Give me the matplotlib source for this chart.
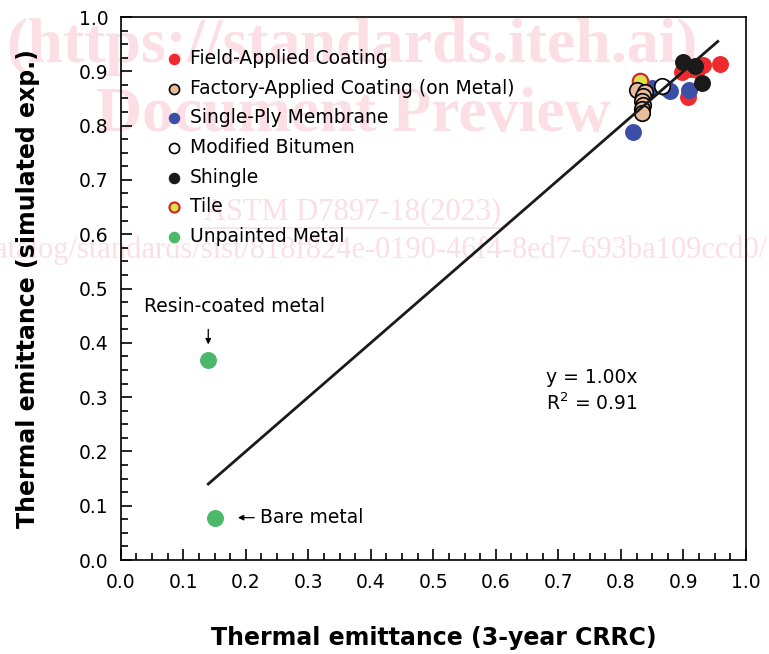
import numpy as np
import matplotlib
matplotlib.use("Agg")
import matplotlib.pyplot as plt
from matplotlib.ticker import MultipleLocator, FormatStrFormatter
from matplotlib.lines import Line2D

# Category data: (3-year CRRC emittance, simulated exp. emittance)
field_x = [0.908, 0.959, 0.932, 0.898, 0.911, 0.922]
field_y = [0.852, 0.913, 0.912, 0.899, 0.905, 0.902]

factory_x = [0.826, 0.839, 0.836, 0.834, 0.836, 0.834, 0.833]
factory_y = [0.866, 0.862, 0.855, 0.846, 0.838, 0.830, 0.824]

membrane_x = [0.819, 0.850, 0.879, 0.872, 0.909]
membrane_y = [0.789, 0.869, 0.864, 0.869, 0.866]

bitumen_x = [0.866]
bitumen_y = [0.873]

shingle_x = [0.899, 0.919, 0.930]
shingle_y = [0.918, 0.910, 0.879]

tile_x = [0.830]
tile_y = [0.882]

metal_x = [0.140, 0.150]
metal_y = [0.369, 0.078]

fit_x = [0.14, 0.955]
slope = 1.00
r2 = 0.91

fig = plt.figure(figsize=(7.69, 6.54), dpi=100)
ax = fig.add_axes([0.157, 0.1437, 0.813, 0.8303])
ax.set_facecolor("none")

# faint document watermark behind the chart
wm = "#fbdfe5"
fig.text(0.458, 0.928, "(https://standards.iteh.ai)", family="Liberation Serif",
         fontsize=46, fontweight="bold", color=wm, ha="center", va="center", zorder=-5)
fig.text(0.46, 0.822, "Document Preview", family="Liberation Serif",
         fontsize=46, fontweight="bold", color=wm, ha="center", va="center", zorder=-5)
fig.text(0.458, 0.676, "ASTM D7897-18(2023)", family="Liberation Serif",
         fontsize=22, color=wm, ha="center", va="center", zorder=-5)
fig.add_artist(Line2D([0.262, 0.656], [0.652, 0.652], color=wm, lw=1.2, zorder=-5))
fig.text(0.998, 0.618, "https://standards.iteh.ai/catalog/standards/sist/818f824e-0190-46f4-8ed7-693ba109ccd0/",
         family="Liberation Serif", fontsize=22, color=wm, ha="right", va="center", zorder=-5)

ms = 125
ax.scatter(field_x, field_y, s=ms, color="#ee2a2e", label="Field-Applied Coating", zorder=3)
ax.scatter(membrane_x, membrane_y, s=ms, color="#3b4fa6", label="Single-Ply Membrane", zorder=3)
ax.scatter(shingle_x, shingle_y, s=ms, color="#1a1a1a", label="Shingle", zorder=3)
ax.scatter(bitumen_x, bitumen_y, s=ms, facecolor="white", edgecolor="black", lw=1.2,
           label="Modified Bitumen", zorder=3)
ax.scatter(factory_x, factory_y, s=ms, facecolor="#e8bd9c", edgecolor="black", lw=1.2,
           label="Factory-Applied Coating (on Metal)", zorder=4)
ax.scatter(tile_x, tile_y, s=ms, facecolor="#dde24a", edgecolor="#d0202a", lw=1.5,
           label="Tile", zorder=3)
ax.scatter(metal_x, metal_y, s=ms, color="#4cb96a", label="Unpainted Metal", zorder=3)

fx = np.array(fit_x)
ax.plot(fx, slope * fx, color="#1a1a1a", lw=2, zorder=5)

handles, labels = ax.get_legend_handles_labels()
order = ["Field-Applied Coating", "Factory-Applied Coating (on Metal)", "Single-Ply Membrane",
         "Modified Bitumen", "Shingle", "Tile", "Unpainted Metal"]
hmap = dict(zip(labels, handles))
ax.legend([hmap[k] for k in order], order, loc="upper left",
          bbox_to_anchor=(0.06, 0.955), frameon=False, fontsize=13.5,
          markerscale=0.65, handletextpad=0.4, labelspacing=0.57,
          handlelength=0.9, borderaxespad=0)

ax.text(0.68, 0.337, f"y = {slope:.2f}x", fontsize=13.5, va="center")
ax.text(0.68, 0.289, f"R$^2$ = {r2:.2f}", fontsize=13.5, va="center")

ax.annotate("", xy=(0.140, 0.392), xytext=(0.140, 0.430),
            arrowprops=dict(arrowstyle="-|>", color="black", lw=0.9, mutation_scale=8))
ax.text(0.038, 0.466, "Resin-coated metal", fontsize=13.5, va="center")
ax.annotate("", xy=(0.183, 0.078), xytext=(0.218, 0.078),
            arrowprops=dict(arrowstyle="-|>", color="black", lw=0.9, mutation_scale=8))
ax.text(0.222, 0.078, "Bare metal", fontsize=13.5, va="center")

ax.set_xlim(0, 1)
ax.set_ylim(0, 1)
ax.xaxis.set_major_locator(MultipleLocator(0.1))
ax.yaxis.set_major_locator(MultipleLocator(0.1))
ax.xaxis.set_minor_locator(MultipleLocator(0.025))
ax.yaxis.set_minor_locator(MultipleLocator(0.025))
ax.xaxis.set_major_formatter(FormatStrFormatter("%.1f"))
ax.yaxis.set_major_formatter(FormatStrFormatter("%.1f"))
ax.tick_params(which="both", direction="in", labelsize=13.5, width=1.2)
ax.tick_params(which="major", length=8, pad=9)
ax.tick_params(which="minor", length=5)
for sp in ax.spines.values():
    sp.set_linewidth(1.2)

ax.set_xlabel("Thermal emittance (3-year CRRC)", fontsize=17, fontweight="bold", labelpad=25)
ax.set_ylabel("Thermal emittance (simulated exp.)", fontsize=17, fontweight="bold", labelpad=28)

fig.savefig("out.png", dpi=100)
